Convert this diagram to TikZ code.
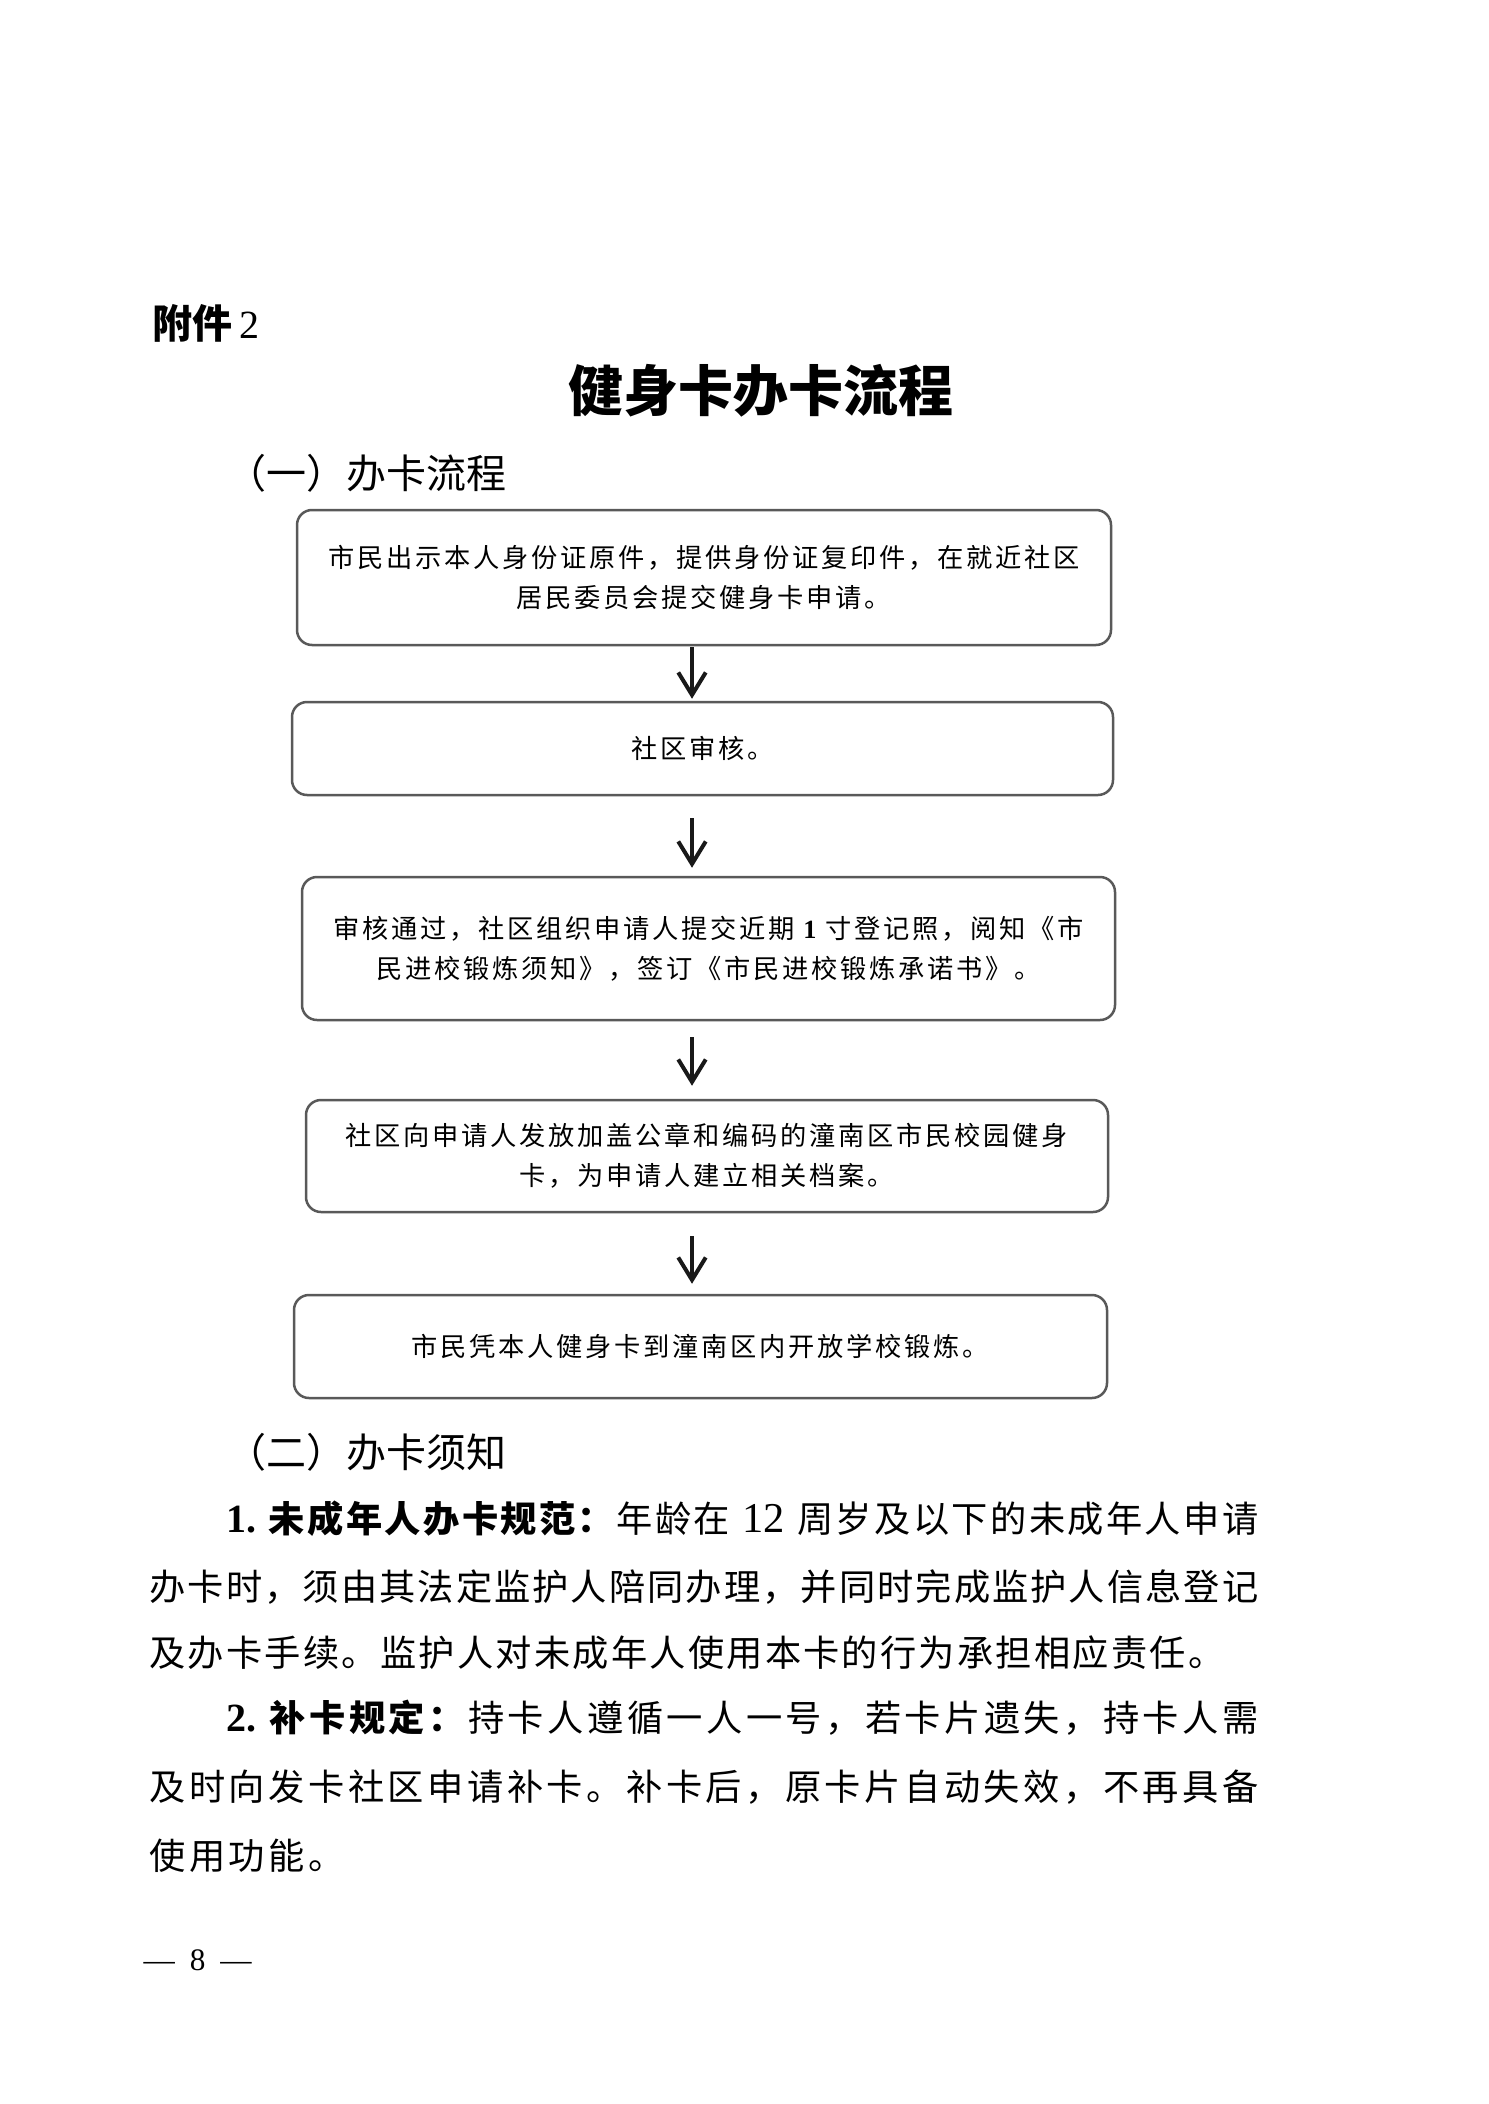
\documentclass[tikz,border=0pt]{standalone}
\usepackage{fontspec}
\setmainfont{Liberation Serif}
\newfontfamily\cjk{Noto Sans CJK SC}
\newfontfamily\cjkbx{Noto Sans CJK SC}[LetterSpace=10.5]
\newfontfamily\cjktx{Noto Sans CJK SC}[LetterSpace=5]
\usetikzlibrary{arrows.meta}
\newcommand\pxl[1]{#1*0.4pt}
% spread characters: insert stretchable glue between single-token characters
\def\sprdend{}
\def\sprd#1{\sprdA#1\sprdend}
\def\sprdA#1#2{#1\ifx\sprdend#2\else\hskip0pt plus1fil\expandafter\sprdA\fi#2}
\def\gapf{\hskip0pt plus1fil\relax}
\tikzset{
  box/.style={draw=black!65, line width=1pt, rounded corners=6pt, inner sep=0pt,
    align=center, font=\cjkbx\fontsize{10.5pt}{16pt}\selectfont},
  arr/.style={line width=1.6pt, black!90, -{Straight Barb[length=9pt,width=11pt]}},
  bodyline/.style={anchor=west, inner sep=0pt, font=\cjktx\fontsize{14.5pt}{20pt}\selectfont},
  head/.style={anchor=west, inner sep=0pt, font=\cjk\fontsize{16pt}{20pt}\selectfont}
}
\begin{document}
\begin{tikzpicture}[x=0.4pt, y=-0.4pt]
\useasboundingbox[fill=white] (0,0) rectangle (1488,2104);

% header
\node[anchor=west, inner sep=0pt, font=\cjk\bfseries\fontsize{16pt}{20pt}\selectfont] (att) at (152,323) {附件\,{\rmfamily\mdseries 2}};
\node[inner sep=0pt, font=\cjk\bfseries\fontsize{22pt}{26pt}\selectfont] (title) at (761,391) {健身卡办卡流程};
\node[head] (sec1) at (226,473) {（一）办卡流程};

% flow boxes
\node[box, minimum width=\pxl{814}, minimum height=\pxl{135}] (b1) at (704,577.5)
  {市民出示本人身份证原件，提供身份证复印件，在就近社区\\居民委员会提交健身卡申请。};
\node[box, minimum width=\pxl{821}, minimum height=\pxl{93}] (b2) at (702.5,748.5)
  {社区审核。};
\node[box, minimum width=\pxl{813}, minimum height=\pxl{143}] (b3) at (708.5,948.5)
  {审核通过，社区组织申请人提交近期 {\rmfamily\bfseries 1} 寸登记照，阅知《市\\民进校锻炼须知》，签订《市民进校锻炼承诺书》。};
\node[box, minimum width=\pxl{802}, minimum height=\pxl{112}] (b4) at (707,1156)
  {社区向申请人发放加盖公章和编码的潼南区市民校园健身\\卡，为申请人建立相关档案。};
\node[box, minimum width=\pxl{813}, minimum height=\pxl{103}] (b5) at (700.5,1346.5)
  {市民凭本人健身卡到潼南区内开放学校锻炼。};

\coordinate (ax) at (692,0);
\draw[arr, shorten <=0.4pt, shorten >=0.8pt] (b1.south -| ax) -- (b2.north -| ax);
\draw[arr, shorten <=8.8pt, shorten >=3.2pt] (b2.south -| ax) -- (b3.north -| ax);
\draw[arr, shorten <=6.4pt, shorten >=5.2pt] (b3.south -| ax) -- (b4.north -| ax);
\draw[arr, shorten <=9.2pt, shorten >=4pt] (b4.south -| ax) -- (b5.north -| ax);

% notes
\node[head] (sec2) at (226,1452) {（二）办卡须知};
\node[bodyline] (l1) at (226,1519) {\makebox[412.8pt][s]{{\rmfamily\bfseries\fontsize{16pt}{20pt}\selectfont 1.}\hskip4pt plus1fil{\bfseries\sprd{未成年人办卡规范：}}\gapf\sprd{年龄在}\hskip4pt plus1fil{\rmfamily\fontsize{17pt}{20pt}\selectfont 12}\hskip4pt plus1fil\sprd{周岁及以下的未成年人申请}}};
\node[bodyline] (l2) at (149,1587) {\makebox[443.6pt][s]{\sprd{办卡时，须由其法定监护人陪同办理，并同时完成监护人信息登记}}};
\node[bodyline] (l3) at (149,1653) {\makebox[430pt][s]{\sprd{及办卡手续。监护人对未成年人使用本卡的行为承担相应责任。}}};
\node[bodyline] (l4) at (226,1718) {\makebox[412.8pt][s]{{\rmfamily\bfseries\fontsize{16pt}{20pt}\selectfont 2.}\hskip4pt plus1fil{\bfseries\sprd{补卡规定：}}\gapf\sprd{持卡人遵循一人一号，若卡片遗失，持卡人需}}};
\node[bodyline] (l5) at (149,1787) {\makebox[443.6pt][s]{\sprd{及时向发卡社区申请补卡。补卡后，原卡片自动失效，不再具备}}};
\node[bodyline] (l6) at (149,1856) {\makebox[78pt][s]{\sprd{使用功能。}}};

% page number
\node[anchor=west, inner sep=0pt, font=\fontsize{12.5pt}{14pt}\selectfont] (pg) at (143,1960) {—\hspace{6pt}8\hspace{6pt}—};
\end{tikzpicture}
\end{document}
